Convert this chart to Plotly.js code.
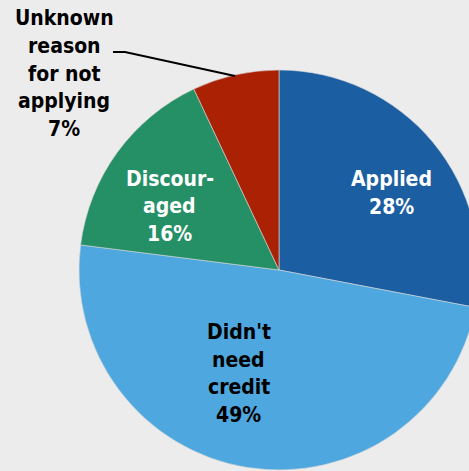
<!DOCTYPE html>
<html>
<head>
<meta charset="utf-8">
<script src="https://cdn.plot.ly/plotly-3.0.1.min.js"></script>
<style>
  html, body { margin: 0; padding: 0; background: #ececec; overflow: hidden; }
  #chart { width: 479px; height: 471px; }
</style>
</head>
<body>
<div id="chart"></div>
<script>
// Credit-application outcomes, share of respondents (%)
const categories = ["Applied", "Didn't need credit", "Discouraged", "Unknown reason for not applying"];
const labelLines = [["Applied"], ["Didn't", "need", "credit"], ["Discour-", "aged"], ["Unknown", "reason", "for not", "applying"]];
const shares = [28, 49, 16, 7];
const sliceColors = ["#1b5ea1", "#4ea7de", "#258f66", "#ab2104"];
const textColors = ["#ffffff", "#000000", "#ffffff", "#000000"];

const FONT = "DejaVu Sans Condensed, DejaVu Sans, sans-serif";
const FONT_SIZE = 21;
const LINE_GAP = 27.6;          // px between text lines

// Figure box: the pie fills a 400x400 plot area offset 79px / 70px
const W = 479, H = 471, ML = 79, MT = 70, PLOT = 400;
const px2x = (px) => (px - ML) / PLOT;
const px2y = (py) => (MT + PLOT - py) / PLOT;

// Label block centres (pixels)
const labelPos = [[391.5, 193], [238.5, 373.5], [169.5, 206.3], [64, 73.5]];

const pie = {
  type: "pie",
  labels: categories,
  values: shares,
  textinfo: "none",
  marker: { colors: sliceColors, line: { color: "#d8d8d8", width: 0.6 } },
  sort: false,
  direction: "clockwise",
  rotation: 0,
  hoverinfo: "none",
  showlegend: false
};

// One annotation per text line so the line spacing can be set freely
const annotations = [];
labelLines.forEach((lines, i) => {
  const all = lines.concat([shares[i] + "%"]);
  const n = all.length;
  all.forEach((t, k) => {
    annotations.push({
      xref: "paper", yref: "paper",
      x: px2x(labelPos[i][0]),
      y: px2y(labelPos[i][1] + (k - (n - 1) / 2) * LINE_GAP),
      xanchor: "center", yanchor: "middle",
      text: "<b>" + t + "</b>",
      showarrow: false,
      font: { family: FONT, size: FONT_SIZE, color: textColors[i] }
    });
  });
});

// Leader line for the small slice's outside label
const leader = [[113, 52], [125, 52], [235, 76]];
const leaderPath = leader.map((p, k) => (k ? "L " : "M ") + px2x(p[0]).toFixed(4) + " " + px2y(p[1]).toFixed(4)).join(" ");

const layout = {
  width: W,
  height: H,
  margin: { l: ML, r: W - ML - PLOT, t: MT, b: H - MT - PLOT, pad: 0 },
  paper_bgcolor: "#ececec",
  plot_bgcolor: "#ececec",
  showlegend: false,
  annotations: annotations,
  shapes: [{
    type: "path",
    xref: "paper", yref: "paper",
    path: leaderPath,
    line: { color: "#000000", width: 2 }
  }]
};

Plotly.newPlot("chart", [pie], layout, { displayModeBar: false, staticPlot: true });
</script>
</body>
</html>
